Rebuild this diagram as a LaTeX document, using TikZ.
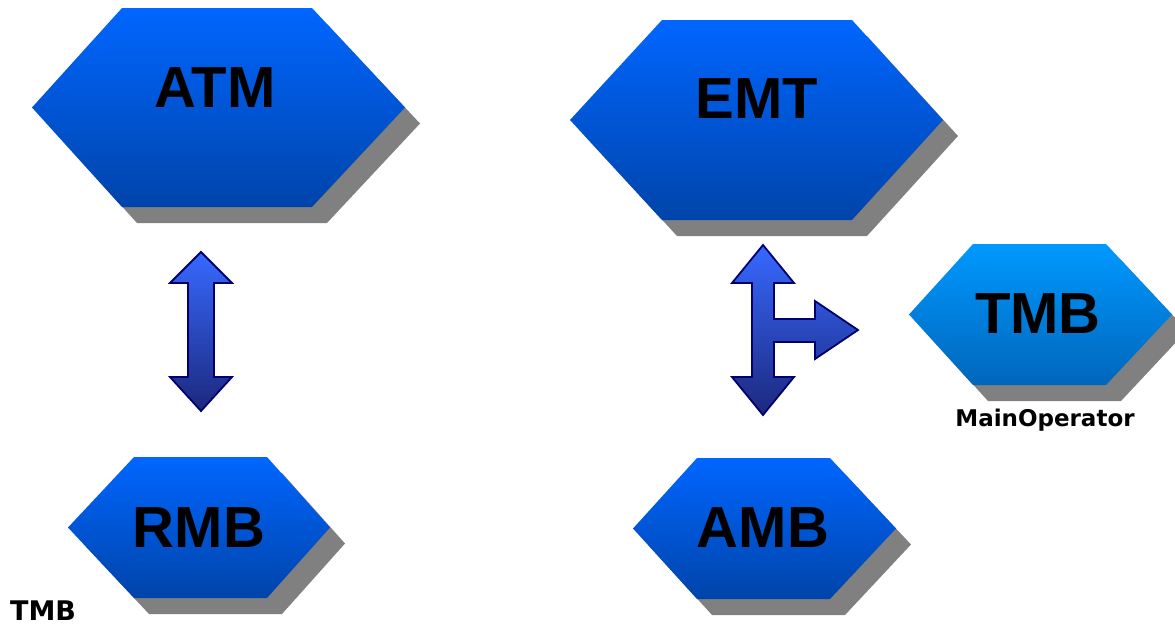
\documentclass[tikz,border=0pt]{standalone}
\usepackage{fontspec}
\setmainfont{Liberation Sans}
\newfontfamily\tagfont{DejaVu Sans}
\definecolor{deeptop}{RGB}{0,102,255}
\definecolor{deepbot}{RGB}{0,68,170}
\definecolor{lighttop}{RGB}{0,153,255}
\definecolor{lightbot}{RGB}{0,102,187}
\definecolor{shadowgray}{RGB}{128,128,128}
\definecolor{arrowtop}{RGB}{55,105,255}
\definecolor{arrowbot}{RGB}{28,40,125}
\definecolor{arrowline}{RGB}{0,0,110}

\begin{document}
\begin{tikzpicture}[x=1pt, y=-1pt,
  hexlabel/.style={font=\fontsize{58}{58}\selectfont\bfseries, inner sep=0pt, anchor=base},
  taglabel/.style={font=\tagfont\bfseries, inner sep=0pt},
  bigarrow/.style={draw=arrowline, line width=1.8pt, line join=miter, top color=arrowtop, bottom color=arrowbot}]
\useasboundingbox (0,0) rectangle (1175,627);
\clip (0,0) rectangle (1175,627);
% hexagons with drop shadow: left x / top-left x / top-right x / right x / top y / bottom y
\foreach \lx/\ax/\bx/\rx/\ty/\by/\tc/\bc in {
  32/122/312/405/8/207/deeptop/deepbot,
  570/662/852/943/20/220/deeptop/deepbot,
  68/134/267/330/457/598/deeptop/deepbot,
  633/697/830/896/458/599/deeptop/deepbot,
  909/973/1106/1172/244/385/lighttop/lightbot} {
 \pgfmathsetmacro\my{(\ty+\by)/2}
 \fill[shadowgray, shift={(15,16)}] (\lx,\my) -- (\ax,\ty) -- (\bx,\ty) -- (\rx,\my) -- (\bx,\by) -- (\ax,\by) -- cycle;
 \shade[top color=\tc, bottom color=\bc] (\lx,\my) -- (\ax,\ty) -- (\bx,\ty) -- (\rx,\my) -- (\bx,\by) -- (\ax,\by) -- cycle;
}
\node[hexlabel] (atm) at (215,107) {ATM};
\node[hexlabel] (emt) at (757,118) {EMT};
\node[hexlabel] (rmb) at (199,547) {RMB};
\node[hexlabel] (amb) at (763,547) {AMB};
\node[hexlabel] (tmb) at (1038,333) {TMB};
\node[taglabel, font=\tagfont\bfseries\fontsize{23}{24}\selectfont, anchor=base] (mainop) at (1045,426) {MainOperator};
\node[taglabel, font=\tagfont\bfseries\fontsize{27}{28}\selectfont, anchor=base west] (tmbtag) at (10,620) {TMB};
% block arrows
\draw[bigarrow] (201,252) -- (232,283) -- (214,283) -- (214,377) -- (232,377) -- (201,411)
  -- (170,377) -- (188,377) -- (188,283) -- (170,283) -- cycle;
\draw[bigarrow] (763,245) -- (794,283) -- (774,283) -- (774,319) -- (815,319) -- (815,301)
  -- (858,330) -- (815,359) -- (815,342) -- (774,342) -- (774,377) -- (794,377) -- (763,415)
  -- (732,377) -- (752,377) -- (752,283) -- (732,283) -- cycle;
\end{tikzpicture}
\end{document}
